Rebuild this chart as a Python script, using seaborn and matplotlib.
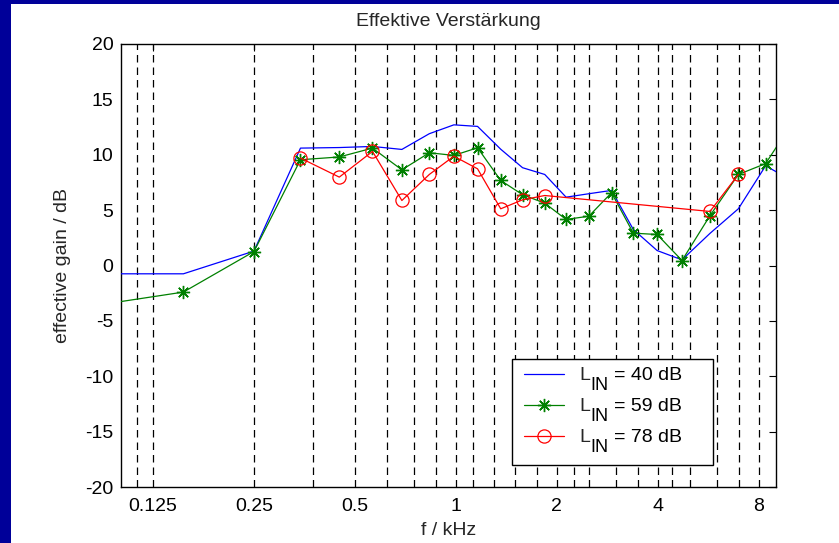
import numpy as np
import pandas as pd
import matplotlib
matplotlib.use("Agg")
import matplotlib.pyplot as plt
from matplotlib.patches import Rectangle
from matplotlib.font_manager import FontProperties
import seaborn as sns

# measurement frequencies (kHz) and effective gain (dB) per input level
freq_khz = [0.0625, 0.154, 0.25, 0.344, 0.449, 0.564, 0.69, 0.833, 0.986, 1.16, 1.36,
            1.58, 1.84, 2.13, 2.49, 2.91, 3.38, 3.98, 4.72, 5.72, 6.95, 8.38, 10.0]
gain_40 = [-0.75, -0.75, 1.3, 10.6, 10.65, 10.75, 10.48, 11.9, 12.7, 12.56, 10.5,
           8.83, 8.22, 6.17, 6.48, 6.78, 3.25, 1.35, 0.51, 2.9, 5.12, 9.0, 7.7]
gain_59 = [-4.2, -2.4, 1.26, 9.55, 9.8, 10.6, 8.64, 10.18, 9.94, 10.63, 7.68,
           6.39, 5.63, 4.16, 4.45, 6.57, 2.92, 2.8, 0.45, 4.5, 8.22, 9.2, 12.75]
gain_78 = [np.nan, np.nan, np.nan, 9.7, 7.98, 10.3, 5.87, 8.22, 9.87, 8.73, 5.12,
           5.93, 6.32, np.nan, np.nan, np.nan, np.nan, np.nan, np.nan, 4.88, 8.22, np.nan, np.nan]

# band edges marked by vertical dashed lines (kHz)
band_edges = [0.112, 0.125, 0.25, 0.375, 0.5, 0.625, 0.75, 0.875, 1.0, 1.125, 1.3, 1.5,
              1.75, 2.0, 2.25, 2.5, 3.0, 3.5, 4.0, 4.4, 5.0, 6.0, 7.0, 8.0]

x_ticks = [0.125, 0.25, 0.5, 1, 2, 4, 8]
x_tick_labels = ["0.125", "0.25", "0.5", "1", "2", "4", "8"]
y_ticks = [-20, -15, -10, -5, 0, 5, 10, 15, 20]

levels_db = [40, 59, 78]
level_sym = "L"
level_sub = "IN"

FS = 14
FAMILY = ["Liberation Sans", "DejaVu Sans"]

sns.set_theme(style="white")
plt.rcParams["font.family"] = FAMILY
plt.rcParams["font.size"] = FS

fig = plt.figure(figsize=(8.39, 5.43), dpi=100)
W, H = 839, 543
fig.patch.set_facecolor("#000099")
fig.patches.append(Rectangle((11 / W, 0), 1, 1 - 4 / H, transform=fig.transFigure,
                             facecolor="white", edgecolor="none", zorder=-10))
ax = fig.add_axes([120.5 / W, 1 - 487 / H, (776 - 120.5) / W, (487 - 44) / H])
ax.set_zorder(1)
ax.set_facecolor("white")
ax.set_xscale("log", base=2)

for f in band_edges:
    ax.axvline(f, color="black", lw=0.9, linestyle=(0, (6, 4)), zorder=1)

df40 = pd.DataFrame({"f": freq_khz, "g": gain_40})
df59 = pd.DataFrame({"f": freq_khz, "g": gain_59})
df78 = pd.DataFrame({"f": freq_khz, "g": gain_78}).dropna()

sns.lineplot(data=df40, x="f", y="g", ax=ax, color=(0, 0, 1), lw=0.9,
             label=level_sym, zorder=3)
sns.lineplot(data=df59, x="f", y="g", ax=ax, color=(0, 0.5, 0), lw=0.9,
             marker=(8, 2, 0), markersize=9.5, markeredgewidth=1.0,
             markeredgecolor=(0, 0.5, 0), label=level_sym, zorder=4)
sns.lineplot(data=df78, x="f", y="g", ax=ax, color=(1, 0, 0), lw=0.9,
             marker="o", markersize=9.5, markerfacecolor="none",
             markeredgecolor=(1, 0, 0), markeredgewidth=0.9, label=level_sym, zorder=5)

ax.set_xlim(0.1, 9.0)
ax.set_ylim(-20, 20)
ax.set_xticks(x_ticks)
ax.set_xticklabels(x_tick_labels)
ax.xaxis.set_minor_locator(matplotlib.ticker.NullLocator())
ax.set_yticks(y_ticks)
ax.set_yticklabels([str(v) for v in y_ticks])

ax.tick_params(axis="x", which="major", direction="in", length=5, width=0.8,
               top=True, labelsize=FS, colors="black", pad=8)
ax.tick_params(axis="y", which="major", direction="in", length=5, width=0.8,
               right=True, labelsize=FS, colors="black", pad=5)
for s in ax.spines.values():
    s.set_color("black")
    s.set_linewidth(1.0)

ax.set_title("Effektive Verstärkung", fontsize=FS, pad=13)
ax.set_xlabel("f / kHz", fontsize=FS, labelpad=5)
ax.set_ylabel("effective gain / dB", fontsize=FS, labelpad=10)

# legend box outline
box_l, box_r, box_t, box_b = 511.7, 712.7, 359.3, 465.0
ax_l, ax_r, ax_t, ax_b = 120.5, 776.0, 44.0, 487.0
def to_ax(px, py):
    return (px - ax_l) / (ax_r - ax_l), (ax_b - py) / (ax_b - ax_t)

bx0, by0 = to_ax(box_l, box_b)
bx1, by1 = to_ax(box_r, box_t)
ax.add_patch(Rectangle((bx0, by0), bx1 - bx0, by1 - by0, transform=ax.transAxes,
                       facecolor="white", edgecolor="black", lw=1.0, zorder=9,
                       clip_on=False))

anchor = to_ax(box_l + 12, box_t + 7.5)
leg = ax.legend(loc="upper left", bbox_to_anchor=anchor, fontsize=FS,
                frameon=False, handlelength=2.06, handletextpad=0.78,
                labelspacing=0.69, borderpad=0, borderaxespad=0)
leg.set_zorder(10)

# subscript and value text beside each "L" in the legend
fig.canvas.draw()
renderer = fig.canvas.get_renderer()
prop = FontProperties(family=FAMILY, size=FS)
w_L, _, _ = renderer.get_text_width_height_descent(level_sym, prop, ismath=False)
_, _, desc = renderer.get_text_width_height_descent("lp", prop, ismath=False)
for t, lvl in zip(leg.get_texts(), levels_db):
    bb = t.get_window_extent(renderer)
    baseline = bb.y0 + desc
    fig.text((bb.x0 + w_L + 1.0) / W, (baseline - 10) / H, level_sub,
             fontsize=FS - 1, family=FAMILY, va="baseline", ha="left",
             color="black", zorder=20)
    fig.text((bb.x0 + 35.0) / W, baseline / H, f"= {lvl} dB",
             fontsize=FS, family=FAMILY, va="baseline", ha="left",
             color="black", zorder=20)

fig.savefig("out.png", dpi=100, facecolor=fig.get_facecolor())
